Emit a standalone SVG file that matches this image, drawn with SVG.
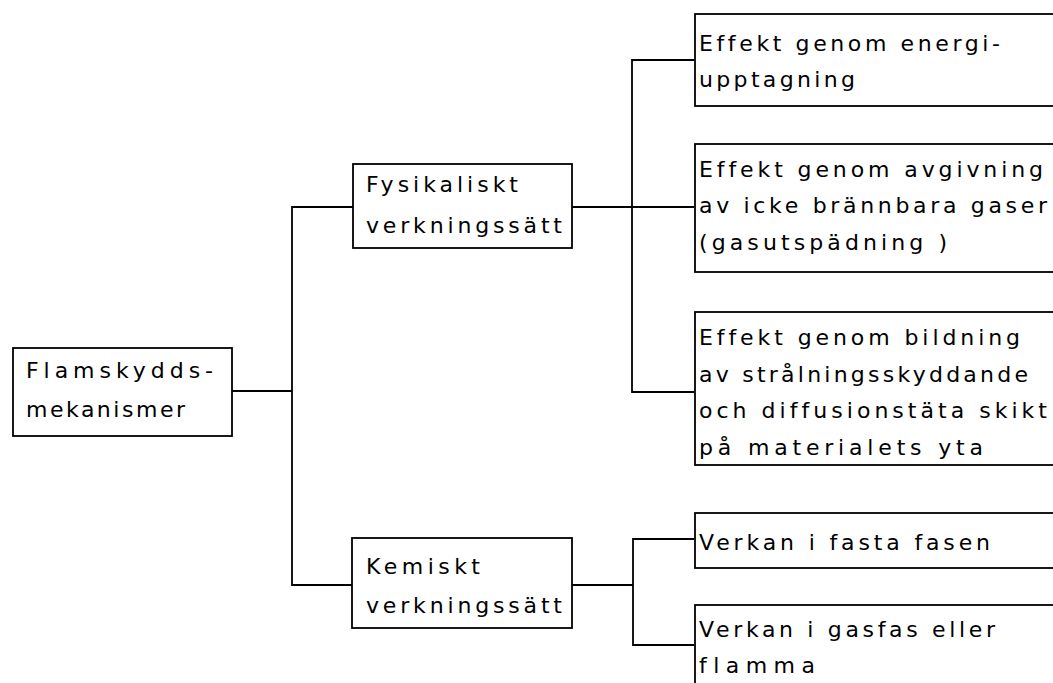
<svg xmlns="http://www.w3.org/2000/svg" width="1053" height="683" viewBox="0 0 1053 683">
<style>
.box{fill:#fff;stroke:#000;stroke-width:1.8}
.ln{fill:none;stroke:#000;stroke-width:1.8}
text{font-family:"DejaVu Sans","Liberation Sans",sans-serif;font-size:22px;fill:#000;font-variant-ligatures:none;font-feature-settings:"liga" 0,"clig" 0}
</style>
<rect width="1053" height="683" fill="#fff"/>
<g id="connectors">
<polyline class="ln" points="232,391 292,391"/>
<polyline class="ln" points="353,207 292,207 292,585 352,585"/>
<polyline class="ln" points="572,207 694,207"/>
<polyline class="ln" points="694,60 632,60 632,392 694,392"/>
<polyline class="ln" points="572,585 633,585"/>
<polyline class="ln" points="694,539 633,539 633,645 694,645"/>
</g>
<g id="n-root">
<rect class="box" x="13" y="348" width="219" height="88"/>
<text x="26" y="378" textLength="187" lengthAdjust="spacing">Flamskydds-</text>
<text x="26" y="417" textLength="159" lengthAdjust="spacing">mekanismer</text>
</g>
<g id="n-fys">
<rect class="box" x="353" y="164" width="219" height="84"/>
<text x="366" y="192" textLength="152" lengthAdjust="spacing">Fysikaliskt</text>
<text x="366" y="233" textLength="196" lengthAdjust="spacing">verkningssätt</text>
</g>
<g id="n-kem">
<rect class="box" x="352" y="538" width="220" height="90"/>
<text x="366" y="574" textLength="114" lengthAdjust="spacing">Kemiskt</text>
<text x="366" y="613" textLength="196" lengthAdjust="spacing">verkningssätt</text>
</g>
<g id="n-energi">
<rect class="box" x="695" y="14" width="370" height="92"/>
<text x="699" y="51" textLength="301" lengthAdjust="spacing">Effekt genom energi-</text>
<text x="699" y="87" textLength="156" lengthAdjust="spacing">upptagning</text>
</g>
<g id="n-gas">
<rect class="box" x="695" y="144" width="370" height="128"/>
<text x="699" y="177" textLength="344" lengthAdjust="spacing">Effekt genom avgivning</text>
<text x="699" y="213" textLength="348" lengthAdjust="spacing">av icke brännbara gaser</text>
<text x="699" y="250" textLength="248" lengthAdjust="spacing">(gasutspädning )</text>
</g>
<g id="n-skikt">
<rect class="box" x="695" y="312" width="370" height="153"/>
<text x="699" y="345" textLength="321" lengthAdjust="spacing">Effekt genom bildning</text>
<text x="699" y="382" textLength="329" lengthAdjust="spacing">av strålningsskyddande</text>
<text x="699" y="418" textLength="348" lengthAdjust="spacing">och diffusionstäta skikt</text>
<text x="699" y="455" textLength="284" lengthAdjust="spacing">på materialets yta</text>
</g>
<g id="n-fast">
<rect class="box" x="695" y="513" width="370" height="55"/>
<text x="699" y="550" textLength="291" lengthAdjust="spacing">Verkan i fasta fasen</text>
</g>
<g id="n-flamma">
<rect class="box" x="695" y="605" width="370" height="100"/>
<text x="699" y="637" textLength="296" lengthAdjust="spacing">Verkan i gasfas eller</text>
<text x="699" y="673" textLength="116" lengthAdjust="spacing">flamma</text>
</g>
</svg>
